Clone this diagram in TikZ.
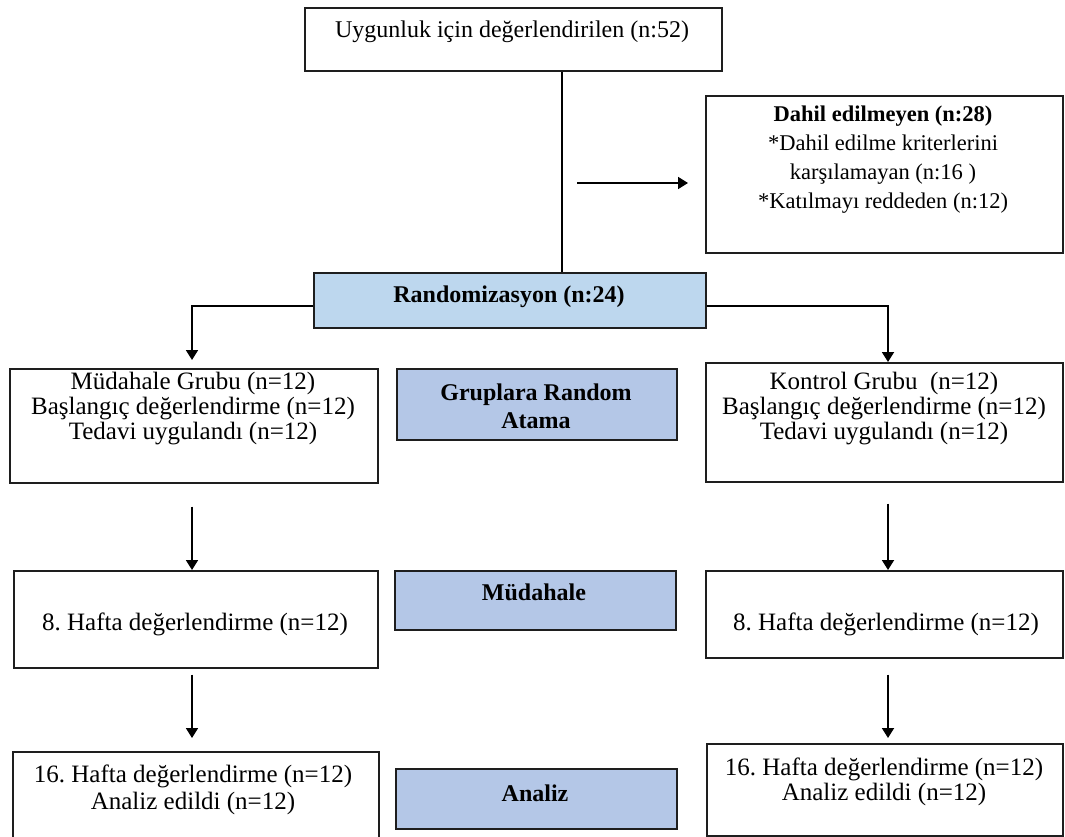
\documentclass[tikz,border=0pt]{standalone}
\usepackage{fontspec}
\setmainfont{Liberation Serif}
\usetikzlibrary{arrows.meta}
\definecolor{randblue}{RGB}{189,215,238}
\definecolor{sideblue}{RGB}{180,199,231}
\definecolor{edgec}{RGB}{30,30,30}
\tikzset{
  box/.style={draw=edgec, line width=1.6pt, fill=white, inner sep=0pt, anchor=north west},
  bluebox/.style={box, fill=sideblue},
  randbox/.style={box, fill=randblue},
  txt/.style={align=center, inner sep=0pt, font=\fontsize{25}{25}\selectfont},
  btxt/.style={txt, font=\fontsize{24}{28}\selectfont\bfseries},
  conn/.style={draw=black, line width=1.8pt},
  arr/.style={conn, -{Triangle[length=10pt,width=12pt]}},
}
\frenchspacing
\begin{document}
\begin{tikzpicture}[x=1pt,y=-1pt]
\clip (0,0) rectangle (1065,837);
\fill[white] (0,0) rectangle (1065,837);

% boxes (top-left corner; width; height)
\node[box, minimum width=417pt, minimum height=63pt] (top) at (304,7) {};
\node[box, minimum width=357pt, minimum height=157pt] (excl) at (705,95) {};
\node[randbox, minimum width=392pt, minimum height=55pt] (rand) at (313,272) {};
\node[box, minimum width=368pt, minimum height=114pt] (g1L) at (9,368) {};
\node[bluebox, minimum width=280pt, minimum height=71pt] (gra) at (396,368) {};
\node[box, minimum width=357pt, minimum height=119pt] (g1R) at (705,362) {};
\node[box, minimum width=364pt, minimum height=97pt] (g2L) at (13,570) {};
\node[bluebox, minimum width=281pt, minimum height=59pt] (mud) at (394,570) {};
\node[box, minimum width=357pt, minimum height=87pt] (g2R) at (705,570) {};
\node[box, minimum width=366pt, minimum height=100pt] (g3L) at (12,751) {};
\node[bluebox, minimum width=281pt, minimum height=60pt] (ana) at (395,768) {};
\node[box, minimum width=356pt, minimum height=92pt] (g3R) at (706,743) {};

% texts
\node[txt, font=\fontsize{24}{25}\selectfont] (ttop) at (512,32) {Uygunluk için değerlendirilen (n:52)};
\node[txt, font=\fontsize{22.5}{29}\selectfont] (texcl) at (883,160) {\textbf{Dahil edilmeyen (n:28)}\\*Dahil edilme kriterlerini\\karşılamayan (n:16 )\\*Katılmayı reddeden (n:12)};
\node[btxt] (trand) at (509,297) {Randomizasyon (n:24)};
\node[txt] (tg1L) at (193,409) {Müdahale Grubu (n=12)\\Başlangıç değerlendirme (n=12)\\Tedavi uygulandı (n=12)};
\node[btxt] (tgra) at (536,406) {Gruplara Random\\Atama};
\node[txt] (tg1R) at (884,409) {Kontrol Grubu~ (n=12)\\Başlangıç değerlendirme (n=12)\\Tedavi uygulandı (n=12)};
\node[txt] (tg2L) at (195,624) {8. Hafta değerlendirme (n=12)};
\node[btxt] (tmud) at (534,592) {Müdahale};
\node[txt] (tg2R) at (886,624) {8. Hafta değerlendirme (n=12)};
\node[txt, font=\fontsize{25}{27}\selectfont] (tg3L) at (193,790) {16. Hafta değerlendirme (n=12)\\Analiz edildi (n=12)};
\node[btxt] (tana) at (535,793) {Analiz};
\node[txt] (tg3R) at (884,782) {16. Hafta değerlendirme (n=12)\\Analiz edildi (n=12)};

% connectors
\coordinate (vx) at (562,0);
\coordinate (lx) at (192,306);
\coordinate (rx) at (888,306);
\coordinate (ea) at (577,183);
\coordinate (eb) at (688,183);
\draw[conn] (top.south -| vx) -- (rand.north -| vx);
\draw[arr] (ea) -- (eb);
\draw[arr, shorten >=8pt] (rand.west |- lx) -- (lx) -- (g1L.north -| lx);
\draw[arr] (rand.east |- rx) -- (rx) -- (g1R.north -| rx);
\draw[arr, shorten <=23pt] (g1L.south -| lx) -- (g2L.north -| lx);
\draw[arr, shorten <=21pt] (g1R.south -| rx) -- (g2R.north -| rx);
\draw[arr, shorten <=6pt, shorten >=13pt] (g2L.south -| lx) -- (g3L.north -| lx);
\draw[arr, shorten <=16pt, shorten >=5pt] (g2R.south -| rx) -- (g3R.north -| rx);
\end{tikzpicture}
\end{document}
